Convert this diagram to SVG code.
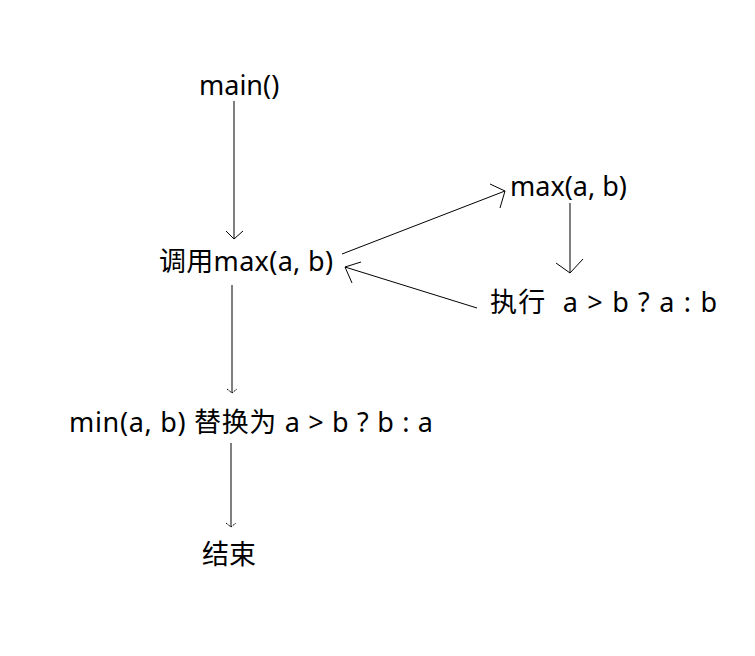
<svg xmlns="http://www.w3.org/2000/svg" width="755" height="656" viewBox="0 0 755 656">
<style>
text{font-family:"Noto Sans","Noto Sans CJK SC",sans-serif;font-size:27px;fill:#000}
.c line,.c polyline{stroke:#000;stroke-width:1;fill:none}
</style>
<rect width="755" height="656" fill="#fff"/>
<g class="c" id="connectors">
<line x1="234" y1="101" x2="234" y2="239"/>
<polyline points="226,231 234,239 243,231"/>
<line x1="232" y1="285" x2="232" y2="393"/>
<polyline points="227,389 232,393 237,389" stroke-dasharray="2,1"/>
<line x1="231" y1="443" x2="231" y2="527"/>
<polyline points="226,523 231,527 236,523" stroke-dasharray="2,1"/>
<line x1="342" y1="254" x2="505" y2="191"/>
<polyline points="490,184 505,191 500,208"/>
<line x1="570" y1="203" x2="570" y2="273"/>
<polyline points="556,263 570,273 583,259"/>
<line x1="477" y1="308" x2="345" y2="267"/>
<polyline points="361,262 345,267 352,283"/>
</g>
<g id="n-main"><text x="199" y="95">main()</text></g>
<g id="n-call"><text x="159" y="271" textLength="174" lengthAdjust="spacing">调用max(a, b)</text></g>
<g id="n-max"><text x="510" y="196">max(a, b)</text></g>
<g id="n-exec"><text x="490" y="312" xml:space="preserve" textLength="227" lengthAdjust="spacing">执行  a &gt; b ? a : b</text></g>
<g id="n-min"><text x="69" y="432" textLength="364" lengthAdjust="spacing">min(a, b) 替换为 a &gt; b ? b : a</text></g>
<g id="n-end"><text x="202" y="564">结束</text></g>
</svg>
